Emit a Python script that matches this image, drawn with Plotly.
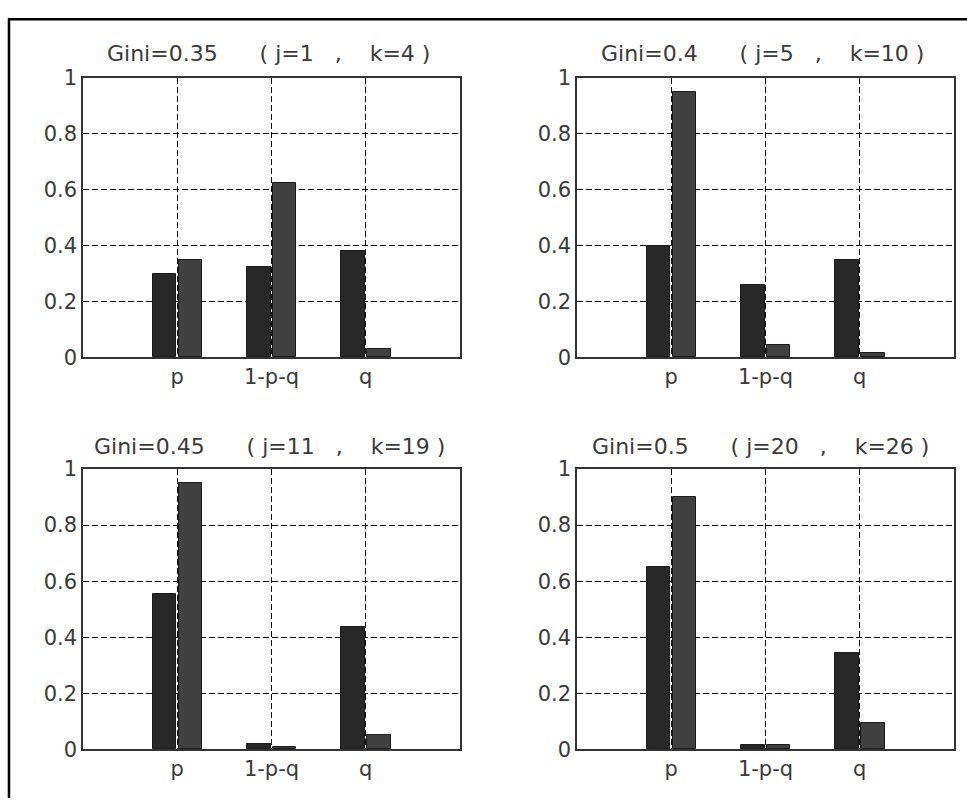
import plotly.graph_objects as go

W, H = 967, 810

categories = ["p", "1-p-q", "q"]
cat_pos = [1, 2, 3]
NB = "\u00a0"
def make_title(g, j, k):
    return f"Gini={g}{NB*6}({NB}j={j}{NB*3},{NB*4}k={k}{NB})"
titles = [
    make_title("0.35", 1, 4),
    make_title("0.4", 5, 10),
    make_title("0.45", 11, 19),
    make_title("0.5", 20, 26),
]
series_a = [
    [0.30, 0.325, 0.38],
    [0.40, 0.26, 0.35],
    [0.555, 0.02, 0.435],
    [0.65, 0.015, 0.345],
]
series_b = [
    [0.35, 0.625, 0.03],
    [0.95, 0.043, 0.016],
    [0.95, 0.008, 0.05],
    [0.90, 0.015, 0.093],
]
y_ticks = [0, 0.2, 0.4, 0.6, 0.8, 1]
y_ticktext = ["0", "0.2", "0.4", "0.6", "0.8", "1"]

# panel boxes in pixels: (left, right, top, bottom)
boxes = [
    (83, 460, 68, 356),
    (577, 954, 68, 356),
    (83, 460, 471, 760),
    (577, 954, 471, 760),
]
title_x_px = [268.5, 762.3, 269, 760.5]
title_y_px = [43, 43, 448, 448]

FONT = "DejaVu Sans"
TXT = "#3a3a3a"

fig = go.Figure()
layout = dict(
    width=W, height=H,
    margin=dict(l=0, r=0, t=0, b=0),
    paper_bgcolor="white", plot_bgcolor="white",
    showlegend=False,
    bargap=0,
    font=dict(family=FONT, size=21, color=TXT),
)
annotations = []
for i in range(4):
    n = "" if i == 0 else str(i + 1)
    xa, ya = "x" + n, "y" + n
    fig.add_trace(go.Bar(
        x=cat_pos, y=series_a[i], xaxis=xa, yaxis=ya,
        offset=-0.26, width=0.25,
        marker=dict(color="#282828", line=dict(color="#1a1a1a", width=1)),
    ))
    fig.add_trace(go.Bar(
        x=cat_pos, y=series_b[i], xaxis=xa, yaxis=ya,
        offset=0.015, width=0.25,
        marker=dict(color="#404040", line=dict(color="#1a1a1a", width=1)),
    ))
    l, r, t, b = boxes[i]
    common = dict(
        showline=True, linecolor="#333333", linewidth=1.5, mirror=True,
        showgrid=True, gridcolor="#111111", gridwidth=1.3, griddash="6px,3px",
        zeroline=False, ticks="", fixedrange=True,
        tickfont=dict(family=FONT, size=21, color=TXT),
    )
    layout["xaxis" + n] = dict(
        domain=[l / W, r / W], anchor=ya, range=[0, 4],
        tickvals=cat_pos, ticktext=categories, **common,
    )
    layout["yaxis" + n] = dict(
        domain=[1 - b / H, 1 - t / H], anchor=xa, range=[0, 1],
        tickvals=y_ticks, ticktext=y_ticktext, **common,
    )
    annotations.append(dict(
        text=titles[i], xref="paper", yref="paper",
        x=title_x_px[i] / W, y=1 - title_y_px[i] / H,
        xanchor="center", yanchor="middle", showarrow=False,
        font=dict(family=FONT, size=22, color=TXT),
    ))

layout["annotations"] = annotations
layout["shapes"] = [
    dict(type="line", xref="paper", yref="paper",
         x0=8 / W, x1=1, y0=1 - 7.5 / H, y1=1 - 7.5 / H,
         line=dict(color="black", width=2.5)),
    dict(type="line", xref="paper", yref="paper",
         x0=9 / W, x1=9 / W, y0=0, y1=1 - 6.5 / H,
         line=dict(color="black", width=2.5)),
]
fig.update_layout(**layout)
fig.write_html("out.html")
